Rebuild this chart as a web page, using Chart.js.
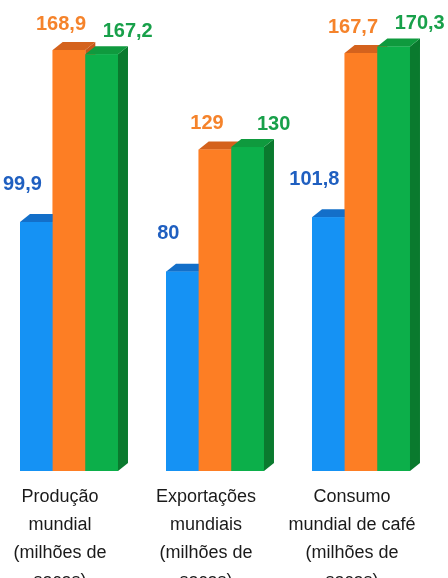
<!DOCTYPE html>
<html>
<head>
<meta charset="utf-8">
<script src="https://cdn.jsdelivr.net/npm/chart.js@4"></script>
<style>
  html, body { margin: 0; padding: 0; background: #fff; overflow: hidden; }
  body { width: 448px; height: 578px; position: relative; }
  .chart-box { position: absolute; left: -4px; top: 0; width: 452px; height: 578px; }
</style>
</head>
<body>
<div class="chart-box"><canvas id="chart"></canvas></div>
<script>
const categories = [
  ['Produção', 'mundial', '(milhões de', 'sacas)'],
  ['Exportações', 'mundiais', '(milhões de', 'sacas)'],
  ['Consumo', 'mundial de café', '(milhões de', 'sacas)']
]
const blueValues = [99.9, 80, 101.8]
const orangeValues = [168.9, 129, 167.7]
const greenValues = [167.2, 130, 170.3]

const DEPTH_X = 10
const DEPTH_Y = 8

// Chart.js paints datasets last-to-first, so repaint every bar here
// left to right: side face, top face, then the front again
const bars3d = {
  id: 'bars3d',
  afterDatasetsDraw(chart) {
    const ctx = chart.ctx
    ctx.save()
    chart.data.datasets.forEach((ds, i) => {
      chart.getDatasetMeta(i).data.forEach(bar => {
        const left = bar.x - bar.width / 2
        const right = bar.x + bar.width / 2
        const top = bar.y
        const bottom = bar.base
        ctx.fillStyle = ds.sideColor
        ctx.beginPath()
        ctx.moveTo(right, top)
        ctx.lineTo(right + DEPTH_X, top - DEPTH_Y)
        ctx.lineTo(right + DEPTH_X, bottom - DEPTH_Y)
        ctx.lineTo(right, bottom)
        ctx.closePath()
        ctx.fill()
        ctx.fillStyle = ds.topColor
        ctx.beginPath()
        ctx.moveTo(left, top)
        ctx.lineTo(left + DEPTH_X, top - DEPTH_Y)
        ctx.lineTo(right + DEPTH_X, top - DEPTH_Y)
        ctx.lineTo(right, top)
        ctx.closePath()
        ctx.fill()
        ctx.fillStyle = ds.backgroundColor
        ctx.fillRect(left, top, right - left, bottom - top)
      })
    })
    ctx.restore()
  }
}

const valueLabels = {
  id: 'valueLabels',
  afterDatasetsDraw(chart) {
    const ctx = chart.ctx
    ctx.save()
    ctx.font = 'bold 20px "Liberation Sans", Arial, sans-serif'
    ctx.textAlign = 'center'
    ctx.textBaseline = 'middle'
    chart.data.datasets.forEach((ds, i) => {
      const meta = chart.getDatasetMeta(i)
      ctx.fillStyle = ds.labelColor
      meta.data.forEach((bar, j) => {
        const text = String(ds.data[j]).replace('.', ',')
        ctx.fillText(text, bar.x + ds.labelDx, bar.y + ds.labelDy)
      })
    })
    ctx.restore()
  }
}

new Chart(document.getElementById('chart'), {
  type: 'bar',
  data: {
    labels: categories,
    datasets: [
      {
        data: blueValues,
        backgroundColor: '#1592f4',
        topColor: '#136fc9',
        sideColor: '#0f5eb0',
        labelColor: '#1f5fc0',
        labelDx: -14,
        labelDy: -38
      },
      {
        data: orangeValues,
        backgroundColor: '#fd7e24',
        topColor: '#d4621d',
        sideColor: '#c4581a',
        labelColor: '#f5832b',
        labelDx: -8,
        labelDy: -26
      },
      {
        data: greenValues,
        backgroundColor: '#0caf4a',
        topColor: '#0f9a3e',
        sideColor: '#0a7a2e',
        labelColor: '#18a04a',
        labelDx: 26,
        labelDy: -23
      }
    ]
  },
  options: {
    responsive: true,
    maintainAspectRatio: false,
    animation: false,
    layout: { padding: { left: 0, right: 14, top: 0, bottom: 0 } },
    datasets: {
      bar: { categoryPercentage: 0.671, barPercentage: 1, borderWidth: 0 }
    },
    plugins: {
      legend: { display: false },
      tooltip: { enabled: false }
    },
    scales: {
      x: {
        grid: { display: false, drawTicks: false },
        border: { display: false },
        afterFit: scale => { scale.height = 107 },
        ticks: {
          color: '#1a1a1a',
          padding: 12,
          labelOffset: -9,
          maxRotation: 0,
          autoSkip: false,
          font: { family: '"Liberation Sans", Arial, sans-serif', size: 18, lineHeight: 1.55 }
        }
      },
      y: {
        display: false,
        min: 0,
        max: 189
      }
    }
  },
  plugins: [bars3d, valueLabels]
})
</script>
</body>
</html>
